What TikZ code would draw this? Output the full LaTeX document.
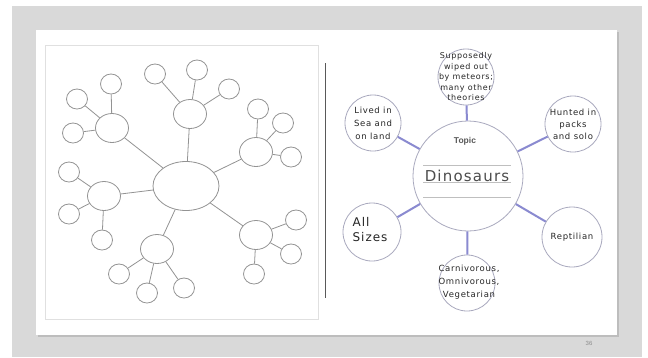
\documentclass[tikz,border=0pt]{standalone}
\usepackage{fontspec}
\setmainfont{Liberation Sans}
\newfontfamily\handfont{DejaVu Sans}[LetterSpace=8]
\usetikzlibrary{shapes.geometric}

\definecolor{backdrop}{HTML}{D9D9D9}
\definecolor{shadow}{HTML}{BDBDBD}
\definecolor{webline}{HTML}{939393}
\definecolor{bubbleline}{HTML}{A9A9BE}
\definecolor{linkblue}{HTML}{8A8AD0}

\tikzset{
    hub/.style={ellipse, draw=webline, line width=0.8pt, inner sep=0pt,
        minimum width=33pt, minimum height=29pt},
    leaf/.style={ellipse, draw=webline, line width=0.8pt, inner sep=0pt,
        minimum width=21pt, minimum height=20pt},
    spoke/.style={webline, line width=0.8pt},
    bubble/.style={circle, draw=bubbleline, fill=white, line width=0.8pt,
        inner sep=0pt, minimum size=56pt},
    link/.style={linkblue, line width=2pt},
    note/.style={font=\handfont\fontsize{8}{10.5}\selectfont, align=center,
        text=black!85, inner sep=0pt},
    rule/.style={black!25, line width=0.6pt}
}

\begin{document}
\begin{tikzpicture}[x=1pt, y=-1pt]
    \useasboundingbox (0,0) rectangle (648,357);
    % page and slide
    \fill[white] (0,0) rectangle (648,357);
    \fill[backdrop] (12,6) rectangle (642,357);
    \fill[shadow] (38,32) rectangle (619,337);
    \fill[white] (36,30) rectangle (617,335);
    \draw[black!12, line width=0.8pt] (45,45) rectangle (318,319);
    \draw[black!65, line width=1pt] (325,63) -- (325,298);
    \node[font=\fontsize{6}{7}\selectfont, text=black!45] (num) at (589,343) {36};

    % empty web on the left
    \node[ellipse, draw=webline, line width=0.8pt, minimum width=66pt, minimum height=49pt] (mid) at (186,186) {};
    \foreach \n/\x/\y in {t/190/114, ul/112/128, ur/256/152, l/104/196, b/157/249, lr/256/235} {
        \node[hub] (\n) at (\x,\y) {};
        \draw[spoke] (mid) -- (\n);
    }
    \foreach \n/\x/\y/\h in {t1/155/74/t, t2/197/70/t, t3/229/89/t,
            ul1/111/84/ul, ul2/77/99/ul, ul3/73/133/ul,
            ur1/258/109/ur, ur2/283/123/ur, ur3/291/157/ur,
            l1/69/172/l, l2/69/214/l, l3/102/240/l,
            b1/119/274/b, b2/147/293/b, b3/184/288/b,
            lr1/296/220/lr, lr2/291/254/lr, lr3/254/274/lr} {
        \node[leaf] (\n) at (\x,\y) {};
        \draw[spoke] (\h) -- (\n);
    }

    % filled-in web on the right
    \node[bubble, minimum size=110pt] (topic) at (468,176) {};
    \node[bubble] (sup) at (466,77) {};
    \node[bubble] (lived) at (373,123) {};
    \node[bubble] (hunted) at (573,124) {};
    \node[bubble, minimum size=58pt] (sizes) at (372,232) {};
    \node[bubble, minimum size=60pt] (rept) at (572,237) {};
    \node[bubble] (carn) at (467,283) {};
    \foreach \n in {sup, lived, hunted, sizes, rept, carn}
        \draw[link] (topic) -- (\n);

    \node[font=\bfseries\fontsize{8.5}{10}\selectfont, text=black!65] (topichead) at (465,141) {Topic};
    \draw[rule] (423,165) -- (511,165);
    \draw[rule] (423,182) -- (511,182);
    \draw[rule] (423,197) -- (511,197);
    \node[font=\handfont\fontsize{15}{18}\selectfont, text=black!70, anchor=base, inner sep=0pt] (dino) at (467,181) {Dinosaurs};

    \node[note] (supt) at (sup) {Supposedly\\wiped out\\by meteors;\\many other\\theories};
    \node[note, font=\handfont\fontsize{8.5}{13}\selectfont] (livedt) at (lived) {Lived in\\Sea and\\on land};
    \node[note, font=\handfont\fontsize{8.5}{12}\selectfont] (huntedt) at (hunted) {Hunted in\\packs\\and solo};
    \node[note, font=\handfont\fontsize{12}{15}\selectfont, align=left] (sizest) at (370,230) {All\\Sizes};
    \node[note, font=\handfont\fontsize{8.5}{12}\selectfont] (reptt) at (rept) {Reptilian};
    \node[note, font=\handfont\fontsize{8.5}{13}\selectfont] (carnt) at (469,282) {Carnivorous,\\Omnivorous,\\Vegetarian};
\end{tikzpicture}
\end{document}
